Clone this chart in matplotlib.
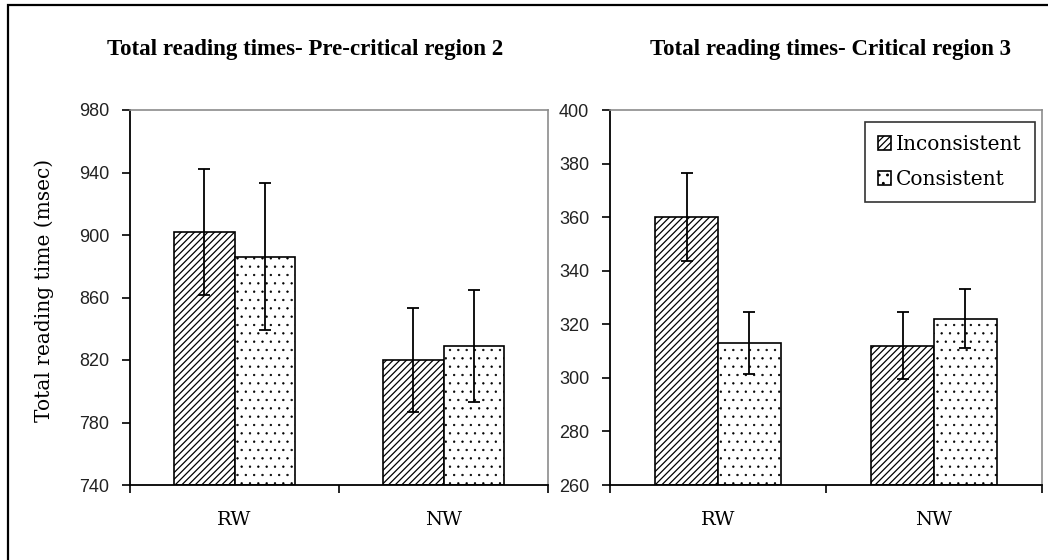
import matplotlib.pyplot as plt
from matplotlib.patches import Rectangle
import numpy as np

plt.rcParams['hatch.linewidth'] = 0.9

groups = ['RW', 'NW']
series = ['Inconsistent', 'Consistent']

# pre-critical region 2
pre_means = {'Inconsistent': [902, 820], 'Consistent': [886, 829]}
pre_err = {'Inconsistent': [40.5, 33], 'Consistent': [47, 36]}

# critical region 3
crit_means = {'Inconsistent': [360, 312], 'Consistent': [313, 322]}
crit_err = {'Inconsistent': [16.5, 12.6], 'Consistent': [11.7, 11]}

titles = ['Total reading times- Pre-critical region 2',
          'Total reading times- Critical region 3']
yticks_pre = [740, 780, 820, 860, 900, 940, 980]
yticks_crit = [260, 280, 300, 320, 340, 360, 380, 400]

hatches = {'Inconsistent': '/////', 'Consistent': '..'}
hatch_lw = {'Inconsistent': 0.9, 'Consistent': 0.45}
serif = 'DejaVu Serif'

fig = plt.figure(figsize=(10.48, 5.6), dpi=100)
W, H = 1048, 560
ax1 = fig.add_axes([130 / W, 1 - 485 / H, 418 / W, 375 / H])
ax2 = fig.add_axes([610 / W, 1 - 485 / H, 432 / W, 375 / H])

x = np.arange(len(groups))
w = 0.29


def draw(ax, means, errs, ticks):
    for i, s in enumerate(series):
        pos = x + (i - 0.5) * w
        with plt.rc_context({'hatch.linewidth': hatch_lw[s]}):
            bars = ax.bar(pos, np.array(means[s]) - ticks[0], w, bottom=ticks[0],
                          facecolor='white', edgecolor='black', hatch=hatches[s],
                          linewidth=1.2, label=s)
        for b in bars:
            if hasattr(b, 'set_hatch_linewidth'):
                b.set_hatch_linewidth(hatch_lw[s])
        ax.errorbar(pos, means[s], yerr=errs[s], fmt='none', ecolor='black',
                    elinewidth=1.3, capsize=4.5, capthick=1.3)
    ax.set_xlim(-0.5, 1.5)
    ax.set_ylim(ticks[0], ticks[-1])
    ax.set_yticks(ticks)
    ax.set_xticks([-0.5, 0.5, 1.5])
    ax.set_xticklabels([])
    ax.tick_params(axis='y', direction='out', length=6, width=1.2, pad=9,
                   labelsize=13)
    ax.tick_params(axis='x', direction='out', length=6, width=1.2)
    for lab in ax.get_yticklabels():
        lab.set_fontfamily('Liberation Sans')
        lab.set_color('#222222')
    for k, g in enumerate(groups):
        ax.text(k, -0.07, g, transform=ax.get_xaxis_transform(),
                ha='center', va='top', fontsize=14, family=serif)
    for side in ['top', 'right']:
        ax.spines[side].set_color('#8c8c8c')
        ax.spines[side].set_linewidth(1.2)
    for side in ['left', 'bottom']:
        ax.spines[side].set_linewidth(1.3)


draw(ax1, pre_means, pre_err, yticks_pre)
draw(ax2, crit_means, crit_err, yticks_crit)

ax1.set_ylabel('Total reading time (msec)', family=serif, fontsize=14.5,
               labelpad=18)
ax1.yaxis.label.set_y(0.52)

fig.text(305 / W, 1 - 49 / H, titles[0], ha='center', va='center',
         fontsize=16.5, fontweight='bold', family='Liberation Serif')
fig.text(830 / W, 1 - 49 / H, titles[1], ha='center', va='center',
         fontsize=16.5, fontweight='bold', family='Liberation Serif')

leg = ax2.legend(loc='upper right', bbox_to_anchor=(0.984, 0.968),
                 frameon=True, fancybox=False, edgecolor='black',
                 prop={'family': serif, 'size': 14.5},
                 handlelength=0.65, handleheight=0.65, handletextpad=0.25,
                 borderpad=0.65, labelspacing=0.8, borderaxespad=0)
leg.get_frame().set_linewidth(1.2)

# outer frame, left and top edges only
fig.add_artist(Rectangle((8 / W, -0.1), 1.2, 1 - 5 / H + 0.1,
                         transform=fig.transFigure, fill=False,
                         edgecolor='black', linewidth=1.6))

fig.savefig('out.png', dpi=100)
